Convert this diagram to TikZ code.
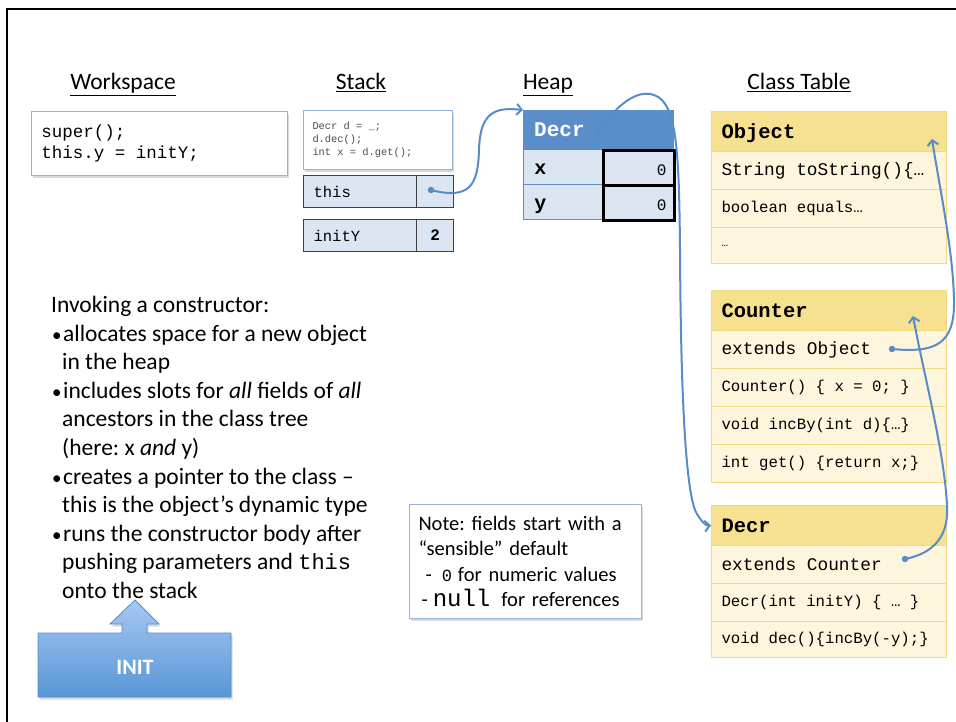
\documentclass[tikz,border=0pt]{standalone}
\usepackage{fontspec}
\setmainfont{Carlito}
\setmonofont{Liberation Mono}
\usetikzlibrary{arrows.meta,shadows}

\definecolor{linkblue}{RGB}{88,140,200}
\definecolor{cheaphead}{RGB}{90,142,202}
\definecolor{cheapcell}{RGB}{219,229,241}
\definecolor{cstackcell}{RGB}{220,230,242}
\definecolor{cclasshead}{RGB}{246,225,145}
\definecolor{cclassrow}{RGB}{253,245,220}
\definecolor{cclassline}{RGB}{240,218,130}
\definecolor{cboxline}{RGB}{150,180,215}
\definecolor{cinittop}{RGB}{166,200,243}
\definecolor{cinitbot}{RGB}{88,150,214}

\newcommand\setfs[2]{\fontsize{#1}{#2}\selectfont}
\newcommand\code[2]{\ttfamily\setfs{#1}{#2}}
% monospaced text with full-width spaces
\ExplSyntaxOn
\NewDocumentCommand\mono{m}
 {
  \tl_set:Nn \l_tmpa_tl {#1}
  \tl_replace_all:Nnn \l_tmpa_tl { ~ } { \hspace*{0.6em} }
  \tl_use:N \l_tmpa_tl
 }
\ExplSyntaxOff
\newcommand\blt{\makebox[12pt][l]{\hspace*{1pt}{\setfs{19pt}{19pt}•}}}
\newcommand\ind{\hspace*{11pt}}

\begin{document}
\frenchspacing
\begin{tikzpicture}[x=1pt,y=-1pt,
  heading/.style={font=\setfs{23.5pt}{28pt}, inner sep=0pt, anchor=base},
  shadowed/.style={drop shadow={opacity=0.3, shadow xshift=1.5pt, shadow yshift=-2.5pt}},
  codebox/.style={draw=cboxline, line width=1pt, fill=white, anchor=north west,
    align=left, inner ysep=0pt, shadowed},
  classhd/.style={draw=cclassline, fill=cclasshead, line width=1pt, anchor=north west,
    minimum width=235pt, minimum height=40pt, text width=215pt, inner xsep=10pt,
    inner ysep=0pt, text height=16pt, text depth=2pt, align=left,
    font=\code{20.5pt}{24pt}\bfseries},
  classrow/.style={draw=cclassline, fill=cclassrow, line width=1pt, anchor=north west,
    minimum width=235pt, minimum height=38pt, text width=215pt, inner xsep=10pt,
    inner ysep=0pt, align=left, font=\code{15.7pt}{19pt}},
  bigrow/.style={classrow, font=\code{17.8pt}{21pt}},
  heaphd/.style={draw=cheaphead, fill=cheaphead, anchor=north west, minimum width=150pt,
    minimum height=39pt, text width=128pt, inner xsep=11pt, inner ysep=0pt, align=left,
    text=white, font=\code{21pt}{24pt}\bfseries},
  heaplab/.style={draw=cheaphead, fill=cheapcell, line width=0.8pt, anchor=north west,
    minimum width=79pt, minimum height=35pt, text width=57pt, inner xsep=11pt,
    inner ysep=0pt, text height=17pt, text depth=2pt, align=left,
    font=\code{20pt}{24pt}\bfseries},
  heapval/.style={draw=black, fill=cheapcell, line width=3pt, anchor=north west,
    minimum width=71pt, minimum height=35pt, text width=55pt, inner xsep=8pt,
    inner ysep=0pt, text height=17pt, text depth=2pt, align=right,
    font=\code{16pt}{20pt}},
  stacklab/.style={draw=black!75, fill=cstackcell, line width=1.2pt, anchor=north west,
    minimum width=113pt, minimum height=32pt, text width=93pt, inner xsep=10pt,
    inner ysep=0pt, align=left, font=\code{15.5pt}{19pt}},
  stackval/.style={draw=black!75, fill=cstackcell, line width=1.2pt, anchor=north west,
    minimum width=37pt, minimum height=32pt, inner sep=0pt,
    font=\code{16pt}{19pt}\bfseries},
  dot/.style={circle, fill=linkblue, inner sep=0pt, minimum size=6.5pt},
  link/.style={draw=linkblue, line width=2pt, line cap=round,
    -{Straight Barb[length=5pt,width=11pt]}}
]
\useasboundingbox (0,0) rectangle (956,722);

% frame edges
\draw[line width=2.5pt] (7,722) -- (7,9) -- (956,9);

% column headings
\node[heading] (hws) at (123,90) {\underline{Workspace}};
\node[heading] (hst) at (361,90) {\underline{Stack}};
\node[heading] (hhp) at (548,90) {\underline{Heap}};
\node[heading] (hct) at (799,90) {\underline{Class Table}};

% workspace
\node[codebox, minimum width=256pt, minimum height=64pt, text width=236pt,
  inner xsep=10pt, font=\code{17.5pt}{21pt}] (ws) at (31,111)
  {\mono{super();\\this.y = initY;}};

% stack
\node[codebox, minimum width=149pt, minimum height=59pt, text width=131pt,
  inner xsep=9pt, text=black!70, font=\code{10.4pt}{13pt}] (frame) at (303,110)
  {\mono{Decr d = \_;\\d.dec();\\int x = d.get();}};
\node[stacklab] (thisname) at (303,175) {this};
\node[stackval] (thisval) at (416,175) {};
\node[stacklab] (inityname) at (303,219) {initY};
\node[stackval] (inityval) at (416,219) {2};

% heap object
\node[heaphd] (hdecr) at (523,110) {Decr};
\node[heaplab] (hxl) at (523,149) {x};
\node[heaplab] (hyl) at (523,184) {y};
\node[heapval] (hxv) at (602,149) {0};
\node[heapval] (hyv) at (602,184) {0};

% class table: Object
\node[classhd] (cobj) at (711,111) {Object};
\node[bigrow] (cobj1) at (711,151) {\mono{String toString()\{…}};
\node[classrow] (cobj2) at (711,189) {\mono{boolean equals…}};
\node[classrow, minimum height=36pt, font=\code{11pt}{13pt}] (cobj3) at (711,227) {…};

% class table: Counter
\node[classhd] (cctr) at (711,290) {Counter};
\node[bigrow] (cctr1) at (711,330) {\mono{extends Object}};
\node[classrow] (cctr2) at (711,368) {\mono{Counter() \{ x = 0; \}}};
\node[classrow] (cctr3) at (711,406) {\mono{void incBy(int d)\{…\}}};
\node[classrow] (cctr4) at (711,444) {\mono{int get() \{return x;\}}};

% class table: Decr
\node[classhd] (cdecr) at (711,505) {Decr};
\node[bigrow] (cdecr1) at (711,545) {\mono{extends Counter}};
\node[classrow] (cdecr2) at (711,583) {\mono{Decr(int initY) \{ … \}}};
\node[classrow, minimum height=36pt] (cdecr3) at (711,621) {\mono{void dec()\{incBy(-y);\}}};

% explanation
\node[anchor=north west, inner sep=0pt, align=left, font=\setfs{23.5pt}{28.6pt}] (explain) at (51,296)
  {Invoking a constructor:\\
   \blt allocates space for a new object\\
   \ind in the heap\\
   \blt includes slots for \textit{all} fields of \textit{all}\\
   \ind ancestors in the class tree\\
   \ind (here: x \textit{and} y)\\
   \blt creates a pointer to the class –\\
   \ind this is the object’s dynamic type\\
   \blt runs the constructor body after\\
   \ind pushing parameters and {\code{22pt}{28.6pt}this}\\
   \ind onto the stack};

% note
\node[codebox, minimum width=232pt, minimum height=114pt, text width=214pt,
  inner xsep=9pt, font=\setfs{20.5pt}{25.4pt}] (note) at (409,504)
  {Note: fields start with a\\
   “sensible” default\\
   \hspace*{7pt}-\hspace*{10pt}{\code{17pt}{25.4pt}0}\hspace*{6pt}for numeric values\\
   \hspace*{3pt}-\hspace*{5pt}{\code{24pt}{25.4pt}null}\hspace*{11pt}for references};

% INIT block arrow
\path[draw=linkblue, line width=0.8pt, top color=cinittop, bottom color=cinitbot, shadowed]
  (38,633) -- (122,633) -- (122,624) -- (110,624) -- (135,600) -- (159,624)
  -- (147,624) -- (147,633) -- (231,633) -- (231,697) -- (38,697) -- cycle;
\node[font=\bfseries\setfs{22pt}{26pt}, text=white] (init) at (135,667) {INIT};

% pointers
\node[dot] (pthis) at (431,190) {};
\draw[link] (pthis.center) .. controls (470,200) and (478,185) .. (479,150)
  .. controls (480,112) and (495,107) .. (hdecr.north west);

\node[dot, minimum size=5pt] (pdecr) at (598,132) {};
\draw[link] (pdecr.center) .. controls (620,100) and (638,92) .. (650,94)
  .. controls (676,98) and (679,140) .. (680,250)
  .. controls (681,430) and (688,500) .. (697,514)
  .. controls (702,522) and (706,526) .. (cdecr.west);

\coordinate (objtip) at (932,139);
\node[dot] (pobj) at (892,349) {};
\draw[link] (pobj.center) .. controls (935,353) and (955,345) .. (954,300)
  .. controls (953,250) and (940,190) .. (objtip);

\coordinate (ctrtip) at (913,316);
\node[dot] (pctr) at (905,559) {};
\draw[link] (pctr.center) .. controls (935,553) and (949,535) .. (947,505)
  .. controls (944,450) and (925,380) .. (ctrtip);
\end{tikzpicture}
\end{document}
